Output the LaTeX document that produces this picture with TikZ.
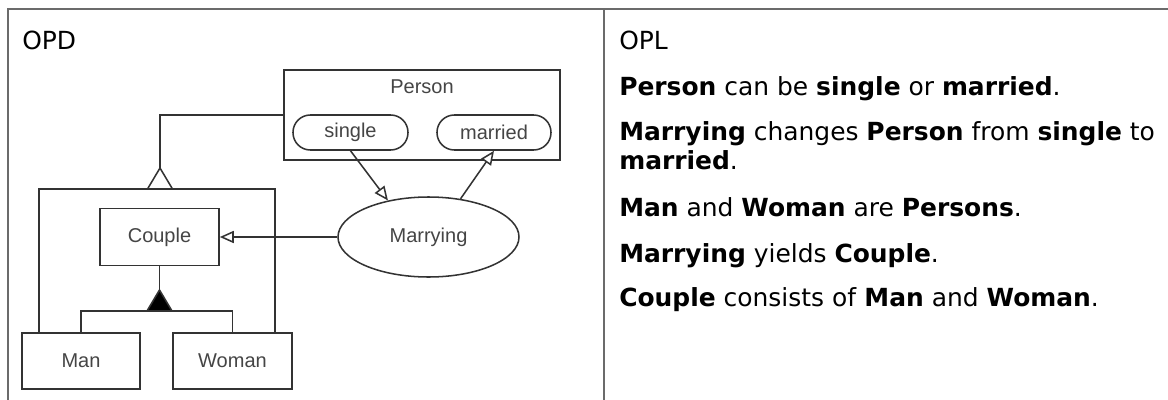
\documentclass[tikz,border=0pt]{standalone}
\usepackage{fontspec}
\setmainfont{DejaVu Sans}
\newfontfamily\diagfont{Liberation Sans}
\usetikzlibrary{arrows.meta,shapes.geometric}
\definecolor{linecol}{HTML}{333333}
\definecolor{txtcol}{HTML}{454545}
\definecolor{framecol}{HTML}{6B6B6B}
\begin{document}
\begin{tikzpicture}[x=0.75pt,y=-0.75pt,
  dtext/.style={font=\diagfont\fontsize{15}{18}\selectfont, text=txtcol},
  obj/.style={draw=linecol, line width=1.15pt, rectangle, inner sep=0pt, dtext},
  state/.style={obj, rounded corners=13pt},
  proc/.style={obj, ellipse},
  link/.style={draw=linecol, line width=1.15pt},
  resarrow/.style={link, -{Triangle[open, length=10.5pt, width=9pt, fill=white]}},
  tri/.style={draw=linecol, line width=1.15pt, line join=miter},
  opl/.style={anchor=base west, inner sep=0pt, font=\fontsize{18.7}{22.4}\selectfont, text=black},
  frame/.style={draw=framecol, line width=1.3pt}
]
\useasboundingbox[fill=white] (0,0) rectangle (1168,400);

% table frame
\coordinate (ftl) at (8,9);
\coordinate (ftr) at (1170,9);
\coordinate (fbl) at (8,402);
\coordinate (fdt) at (604,9);
\coordinate (fdb) at (604,402);
\draw[frame] (fbl) -- (ftl) -- (ftr);
\draw[frame] (fdt) -- (fdb);

% OPD
\node[opl] (opd) at (22,49) {OPD};
\node[obj, minimum width=207pt, minimum height=67.5pt] (person) at (422,115) {};
\node[dtext, inner sep=0pt] (personlbl) at (422,87) {Person};
\node[state, minimum width=86.25pt, minimum height=26.25pt] (single) at (350.5,132.5) {single};
\node[state, minimum width=85.5pt, minimum height=26.25pt] (married) at (494,132.5) {married};
\node[proc, minimum width=135.75pt, minimum height=60pt] (marrying) at (428.5,237) {Marrying};
\node[obj, minimum width=89.25pt, minimum height=42.75pt] (couple) at (159.5,237) {Couple};
\node[obj, minimum width=88.5pt, minimum height=42pt] (man) at (81,361) {Man};
\node[obj, minimum width=89.25pt, minimum height=42pt] (woman) at (232.5,361) {Woman};

% generalization
\coordinate (genapex) at (160,168);
\coordinate (gl) at (39,189);
\coordinate (gr) at (275,189);
\draw[link] (person.west) -| (genapex);
\draw[tri, fill=white] (genapex) -- ++(-12.5,21) -- ++(25,0) -- cycle;
\draw[link] (gl |- man.north) -- (gl) -- (gr) -- (gr |- woman.north);

% aggregation
\coordinate (aggapex) at (159.5,290);
\coordinate (aggbar) at (159.5,311);
\draw[link] (couple.south) -- (aggapex);
\draw[tri, fill=black] (aggapex) -- ++(-12.5,21) -- ++(25,0) -- cycle;
\draw[link] (man.north) -- (man.north |- aggbar) -- (woman.north |- aggbar) -- (woman.north);

% result / effect links
\draw[resarrow] (marrying.west) -- (couple.east);
\draw[resarrow] (single.south) -- (marrying.138);
\draw[resarrow] (marrying.50) -- (married.south);

% OPL
\node[opl] (opltitle) at (619,49) {OPL};
\node[opl] (l1) at (619,95) {\textbf{Person} can be \textbf{single} or \textbf{married}.};
\node[opl] (l2a) at (619,140) {\textbf{Marrying} changes \textbf{Person} from \textbf{single} to};
\node[opl] (l2b) at (619,169) {\textbf{married}.};
\node[opl] (l3) at (619,216) {\textbf{Man} and \textbf{Woman} are \textbf{Persons}.};
\node[opl] (l4) at (619,262) {\textbf{Marrying} yields \textbf{Couple}.};
\node[opl] (l5) at (619,306) {\textbf{Couple} consists of \textbf{Man} and \textbf{Woman}.};
\end{tikzpicture}
\end{document}
